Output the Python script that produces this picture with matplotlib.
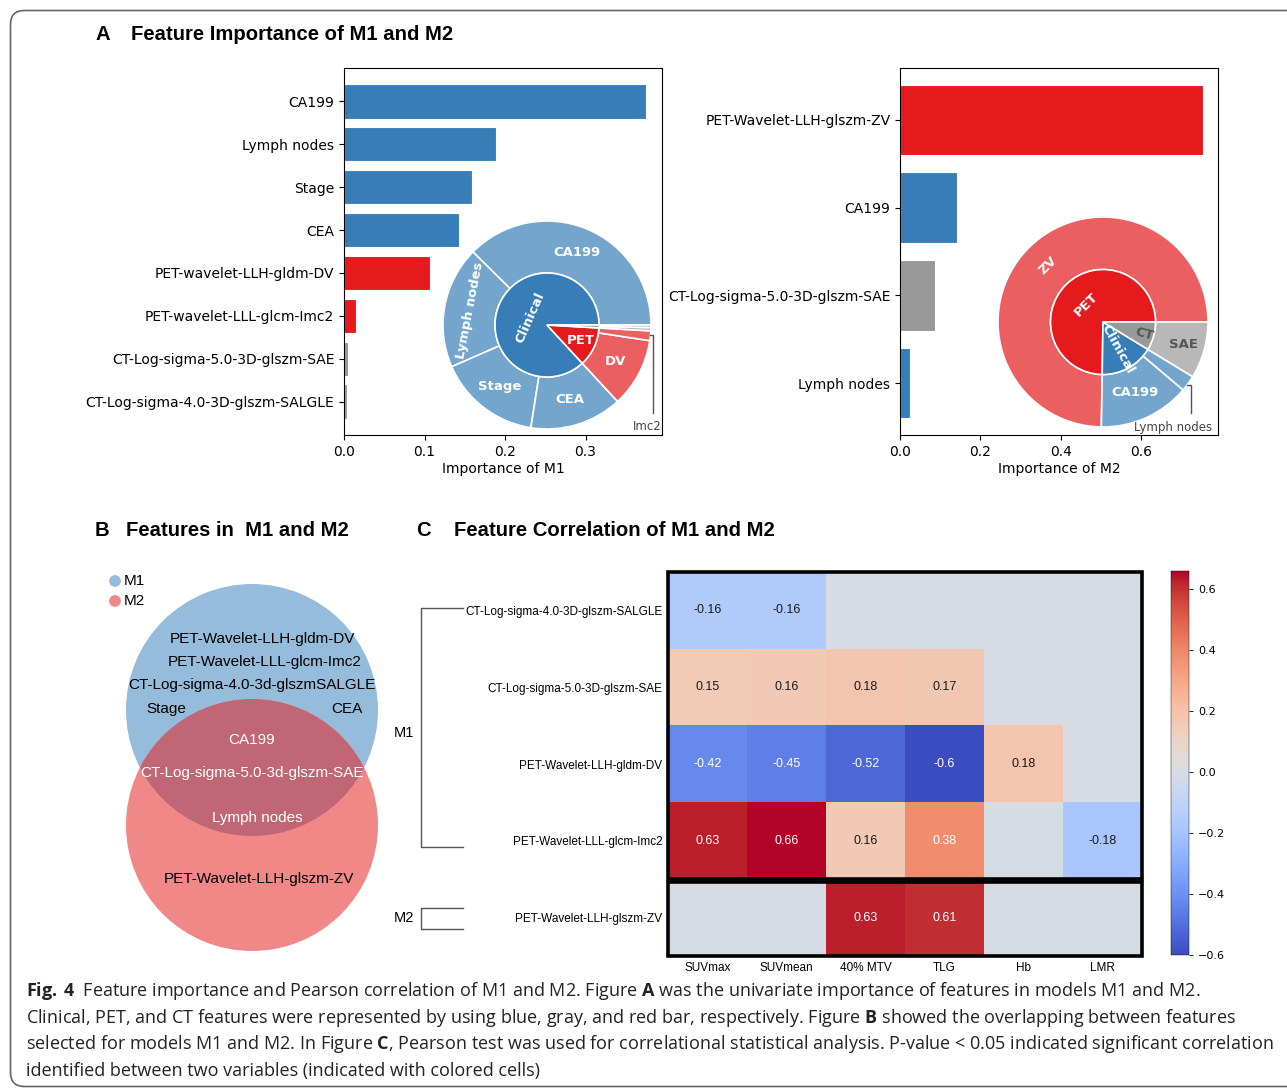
import matplotlib
matplotlib.use('Agg')
import matplotlib.pyplot as plt
import numpy as np
from matplotlib.patches import Circle, Rectangle, FancyBboxPatch
from matplotlib.colors import to_rgb

plt.rcParams['mathtext.fontset'] = 'custom'
plt.rcParams['mathtext.rm'] = 'Open Sans'
plt.rcParams['mathtext.bf'] = 'Open Sans:bold'

# ---------------- data ----------------
m1_features = ['CA199', 'Lymph nodes', 'Stage', 'CEA',
               'PET-wavelet-LLH-gldm-DV', 'PET-wavelet-LLL-glcm-Imc2',
               'CT-Log-sigma-5.0-3D-glszm-SAE', 'CT-Log-sigma-4.0-3D-glszm-SALGLE']
m1_importance = [0.375, 0.189, 0.159, 0.143, 0.107, 0.015, 0.005, 0.004]
m1_type = ['Clinical', 'Clinical', 'Clinical', 'Clinical', 'PET', 'PET', 'CT', 'CT']
m1_groups = ['Clinical', 'PET', 'CT']

m2_features = ['PET-Wavelet-LLH-glszm-ZV', 'CA199',
               'CT-Log-sigma-5.0-3D-glszm-SAE', 'Lymph nodes']
m2_importance = [0.755, 0.142, 0.088, 0.025]
m2_type = ['PET', 'Clinical', 'CT', 'Clinical']
m2_groups = ['PET', 'Clinical', 'CT']

venn_m1_only = ['PET-Wavelet-LLH-gldm-DV', 'PET-Wavelet-LLL-glcm-Imc2',
                'CT-Log-sigma-4.0-3d-glszmSALGLE', 'Stage', 'CEA']
venn_both = ['CA199', 'CT-Log-sigma-5.0-3d-glszm-SAE', 'Lymph nodes']
venn_m2_only = ['PET-Wavelet-LLH-glszm-ZV']

corr_rows = ['CT-Log-sigma-4.0-3D-glszm-SALGLE', 'CT-Log-sigma-5.0-3D-glszm-SAE',
             'PET-Wavelet-LLH-gldm-DV', 'PET-Wavelet-LLL-glcm-Imc2',
             'PET-Wavelet-LLH-glszm-ZV']
corr_cols = ['SUVmax', 'SUVmean', '40% MTV', 'TLG', 'Hb', 'LMR']
nan = np.nan
corr_vals = np.array([
    [-0.16, -0.16, nan, nan, nan, nan],
    [0.15, 0.16, 0.18, 0.17, nan, nan],
    [-0.42, -0.45, -0.52, -0.6, 0.18, nan],
    [0.63, 0.66, 0.16, 0.38, nan, -0.18],
    [nan, nan, 0.63, 0.61, nan, nan],
])

type_color = {'Clinical': '#377eb8', 'PET': '#e41a1c', 'CT': '#999999'}

W, H = 1287, 1088
fig = plt.figure(figsize=(W / 100, H / 100), dpi=100)


def px_axes(x0, y0, w, h):
    return fig.add_axes([x0 / W, 1 - (y0 + h) / H, w / W, h / H])


def light(c, a=0.7):
    r = np.array(to_rgb(c))
    return tuple(a * r + (1 - a))


# overlay in pixel coordinates
ov = px_axes(0, 0, W, H)
ov.set_xlim(0, W)
ov.set_ylim(H, 0)
ov.axis('off')
ov.add_patch(FancyBboxPatch((10.5, 10.5), 1320, 1076, boxstyle='round,pad=0,rounding_size=14',
                            fill=False, edgecolor='#666666', lw=1.2, clip_on=False))

tfont = dict(family='Liberation Sans', fontweight='bold', fontsize=14.6, va='center')
ov.text(95, 35, 'A', **tfont)
ov.text(131, 35, 'Feature Importance of M1 and M2', **tfont)
ov.text(95, 530, 'B', **tfont)
ov.text(126, 530, 'Features in  M1 and M2', **tfont)
ov.text(416, 530, 'C', **tfont)
ov.text(454, 530, 'Feature Correlation of M1 and M2', **tfont)

# ---------------- A: bar charts ----------------
def bar_panel(box, names, vals, types, xmax, ticks, xlabel, pad):
    ax = px_axes(*box)
    y = np.arange(len(names))
    ax.barh(y, vals, height=0.8, color=[type_color[t] for t in types],
            edgecolor='white', linewidth=0.8)
    ax.set_yticks(y)
    ax.set_yticklabels(names, fontsize=10)
    ax.set_ylim(len(names) - 1 + pad, -pad)
    ax.set_xlim(0, xmax)
    ax.set_xticks(ticks)
    ax.tick_params(labelsize=10)
    ax.set_xlabel(xlabel, fontsize=10, labelpad=2)
    return ax


ax1 = bar_panel((344, 68, 318, 367), m1_features, m1_importance, m1_type, 0.395,
                [0, 0.1, 0.2, 0.3], 'Importance of M1', 0.78)
ax2 = bar_panel((900, 68, 318, 367), m2_features, m2_importance, m2_type, 0.792,
                [0, 0.2, 0.4, 0.6], 'Importance of M2', 0.59)


def sunburst(box, vals, types, groups, outer_lab, inner_lab):
    ax = px_axes(*box)
    ax.patch.set_visible(False)
    order = sorted(range(len(vals)), key=lambda i: groups.index(types[i]))
    ov_vals = [vals[i] for i in order]
    ov_cols = [light(type_color[types[i]]) for i in order]
    in_vals = [sum(v for v, t in zip(vals, types) if t == g) for g in groups]
    in_cols = [type_color[g] for g in groups]
    wp = dict(edgecolor='white', linewidth=1.2)
    ax.pie(ov_vals, radius=1, startangle=0, colors=ov_cols,
           wedgeprops=dict(width=0.5, **wp))
    ax.pie(in_vals, radius=0.5, startangle=0, colors=in_cols, wedgeprops=wp)
    ax.set_xlim(-1, 1)
    ax.set_ylim(-1, 1)
    ax.set_aspect('equal')
    ax.axis('off')

    def mids(v):
        c = np.cumsum([0] + list(v)) / sum(v) * 360
        return (c[:-1] + c[1:]) / 2

    for m, lab in list(zip(mids(ov_vals), outer_lab)) + list(zip(mids(in_vals), inner_lab)):
        if lab is None:
            continue
        txt, r, rot, col = lab
        a = np.deg2rad(m)
        ax.text(r * np.cos(a), r * np.sin(a), txt, rotation=rot, color=col,
                ha='center', va='center', fontsize=9.5, fontweight='bold')
    return ax


p1 = sunburst((443, 221, 208, 208), m1_importance, m1_type, m1_groups,
              [('CA199', 0.75, 0, 'white'), ('Lymph nodes', 0.75, 79, 'white'),
               ('Stage', 0.75, 0, 'white'), ('CEA', 0.75, 0, 'white'),
               ('DV', 0.75, 0, 'white'), None, None, None],
              [('Clinical', 0.18, 66, 'white'), ('PET', 0.36, 0, 'white'), None])
p1.plot([0.99, 1.02, 1.02], [-0.10, -0.10, -0.85], color='#555555', lw=1, clip_on=False)
p1.text(0.96, -0.98, 'Imc2', ha='center', va='center', fontsize=8.5, color='#444444')

p2 = sunburst((998, 217, 210, 210), m2_importance, m2_type, m2_groups,
              [('ZV', 0.75, 45, 'white'), ('CA199', 0.74, 0, 'white'), None,
               ('SAE', 0.80, 0, '#555555')],
              [('PET', 0.23, 45, 'white'), ('Clinical', 0.29, -61, 'white'),
               ('CT', 0.41, -15, '#555555')])
p2.plot([0.80, 0.835, 0.835], [-0.6, -0.6, -0.87], color='#555555', lw=1, clip_on=False)
p2.text(0.67, -1.0, 'Lymph nodes', ha='center', va='center', fontsize=8.5, color='#444444')

# ---------------- B: venn ----------------
vx = px_axes(100, 560, 300, 400)
vx.set_xlim(100, 400)
vx.set_ylim(960, 560)
vx.set_aspect('equal')
vx.axis('off')
c_m1 = Circle((252, 710), 126, facecolor='#96bcdb', edgecolor='none')
c_m2 = Circle((252, 825), 126, facecolor='#f08888', edgecolor='none')
vx.add_patch(c_m1)
vx.add_patch(c_m2)
c_both = Circle((252, 825), 126, facecolor='#c06675', edgecolor='none')
vx.add_patch(c_both)
c_both.set_clip_path(c_m1)
vx.scatter([115, 115], [581, 601], s=55, c=['#96bcdb', '#f08888'], clip_on=False)
vfont = dict(family='Liberation Sans', fontsize=11, ha='center', va='center')
vx.text(124, 581, 'M1', family='Liberation Sans', fontsize=11, va='center')
vx.text(124, 601, 'M2', family='Liberation Sans', fontsize=11, va='center')
for txt, (x, y) in zip(venn_m1_only, [(262, 639), (265, 662), (252, 685), (166, 709), (347, 709)]):
    vx.text(x, y, txt, color='black', **vfont)
for txt, (x, y) in zip(venn_both, [(252, 740), (252, 773), (257, 818)]):
    vx.text(x, y, txt, color='white', **vfont)
for txt, (x, y) in zip(venn_m2_only, [(259, 879)]):
    vx.text(x, y, txt, color='black', **vfont)

# ---------------- C: heatmap ----------------
hx = px_axes(668, 572, 474, 384)
cmap = plt.get_cmap('coolwarm').copy()
cmap.set_bad('#d6dce4')
im = hx.imshow(np.ma.masked_invalid(corr_vals), cmap=cmap, vmin=-0.6, vmax=0.66,
               aspect='auto')
for i in range(corr_vals.shape[0]):
    for j in range(corr_vals.shape[1]):
        v = corr_vals[i, j]
        if np.isnan(v):
            continue
        hx.text(j, i, '%g' % v, ha='center', va='center', fontsize=9,
                family='Liberation Sans', color='white' if abs(v) >= 0.35 else '#1a1a1a')
hx.set_xticks(range(len(corr_cols)))
hx.set_xticklabels(corr_cols, fontsize=8.5, family='Liberation Sans')
hx.set_yticks(range(len(corr_rows)))
hx.set_yticklabels(corr_rows, fontsize=8.5, family='Liberation Sans')
hx.tick_params(length=0, pad=4)
for s in hx.spines.values():
    s.set_visible(False)
hx.add_patch(Rectangle((-0.5, -0.5), 6, 4, fill=False, lw=2.6, edgecolor='black', clip_on=False))
hx.add_patch(Rectangle((-0.5, 3.54), 6, 0.96, fill=False, lw=2.6, edgecolor='black', clip_on=False))

tr = hx.get_yaxis_transform()
bk = dict(color='#555555', lw=1, transform=tr, clip_on=False)
hx.plot([-0.432, -0.521, -0.521, -0.432], [-0.03, -0.03, 3.08, 3.08], **bk)
hx.plot([-0.432, -0.521, -0.521, -0.432], [3.87, 3.87, 4.15, 4.15], **bk)
hx.text(-0.557, 1.6, 'M1', transform=tr, ha='center', va='center', fontsize=10.5, family='Liberation Sans')
hx.text(-0.558, 4.0, 'M2', transform=tr, ha='center', va='center', fontsize=10.5, family='Liberation Sans')

cax = px_axes(1171, 571, 18, 384)
cb = fig.colorbar(im, cax=cax, ticks=[-0.6, -0.4, -0.2, 0.0, 0.2, 0.4, 0.6])
cb.outline.set_linewidth(0.3)
cax.tick_params(labelsize=8, length=3, width=0.6)

# ---------------- caption ----------------
cap_lines = [
    r'$\bf{Fig.\,4}$  Feature importance and Pearson correlation of M1 and M2. Figure $\bf{A}$ was the univariate importance of features in models M1 and M2.',
    r'Clinical, PET, and CT features were represented by using blue, gray, and red bar, respectively. Figure $\bf{B}$ showed the overlapping between features',
    r'selected for models M1 and M2. In Figure $\bf{C}$, Pearson test was used for correlational statistical analysis. P-value < 0.05 indicated significant correlation',
    'identified between two variables (indicated with colored cells)',
]
cap_texts = []
for k, line in enumerate(cap_lines):
    cap_texts.append(ov.text(26, 991 + 26.7 * k, line, family='Open Sans', fontsize=12,
                             va='center', ha='left', color='#222222'))
rend = fig.canvas.get_renderer()
wid = cap_texts[2].get_window_extent(rend).width
scale = (1275 - 26) / wid
for t in cap_texts:
    t.set_fontsize(12 * scale)

fig.savefig('out.png', dpi=100)
